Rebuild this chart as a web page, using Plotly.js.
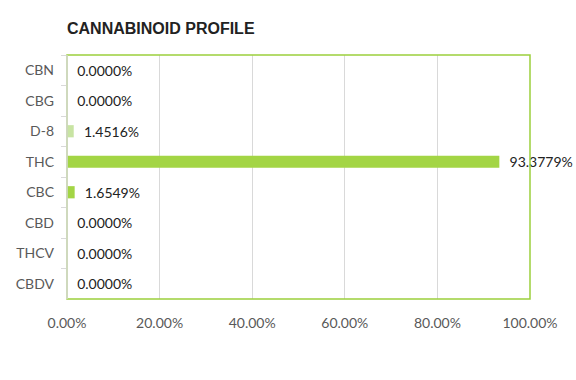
<!DOCTYPE html>
<html><head><meta charset="utf-8">
<script src="https://cdn.plot.ly/plotly-3.0.1.min.js"></script>
<style>body{margin:0;background:#fff}#c{width:576px;height:380px}</style>
</head><body><div id="c"></div>
<script>
const categories = ["CBN","CBG","D-8","THC","CBC","CBD","THCV","CBDV"];
const values = [0, 0, 1.4516, 93.3779, 1.6549, 0, 0, 0];
const colors = ["#a3d545","#a3d545","#c8e4a3","#a3d545","#a3d545","#a3d545","#a3d545","#a3d545"];
const xTicks = [0,20,40,60,80,100];
const xTickText = ["0.00%","20.00%","40.00%","60.00%","80.00%","100.00%"];

const trace = {
  type: "bar", orientation: "h",
  x: values, y: categories,
  marker: {color: colors},
  text: values.map(v => "  " + v.toFixed(4) + "%"),
  textposition: "outside",
  constraintext: "none",
  cliponaxis: false,
  textfont: {family: "Lato, 'Open Sans', sans-serif", size: 14, color: "#222"},
  hoverinfo: "none"
};
const layout = {
  width: 576, height: 380,
  margin: {l: 67, r: 46, t: 55, b: 81},
  paper_bgcolor: "#fff", plot_bgcolor: "#fff",
  bargap: 0.6,
  showlegend: false,
  title: {text: "<b>CANNABINOID PROFILE</b>", x: 0, xref: "paper", xanchor: "left", y: 0.925, yanchor: "middle",
          font: {family: "'Liberation Sans', Arial, sans-serif", size: 16, color: "#222"}},
  xaxis: {range: [0, 100], tickvals: xTicks, ticktext: xTickText, showgrid: true, gridcolor: "#d9d9d9", gridwidth: 1,
          zeroline: false, showline: false, ticks: "", ticklen: 0, ticklabelstandoff: 14,
          tickfont: {family: "Lato, 'Open Sans', sans-serif", size: 14, color: "#595959"}},
  yaxis: {type: "category", autorange: "reversed", showgrid: false, zeroline: false,
          showline: false, ticks: "outside", tickson: "boundaries", ticklen: 5, tickcolor: "#d9d9d9",
          ticklabelstandoff: 12,
          tickfont: {family: "Lato, 'Open Sans', sans-serif", size: 14, color: "#595959"}},
  shapes: [
    {type: "rect", xref: "paper", yref: "paper", x0: 0, x1: 1, y0: 0, y1: 1, line: {color: "#9ccf3c", width: 1.5}, fillcolor: "rgba(0,0,0,0)"},
    {type: "line", xref: "paper", yref: "paper", x0: 0, x1: 0, y0: 0, y1: 1, line: {color: "#d9d9d9", width: 1.5}}
  ]
};
Plotly.newPlot("c", [trace], layout, {displayModeBar: false, staticPlot: true});
</script></body></html>
